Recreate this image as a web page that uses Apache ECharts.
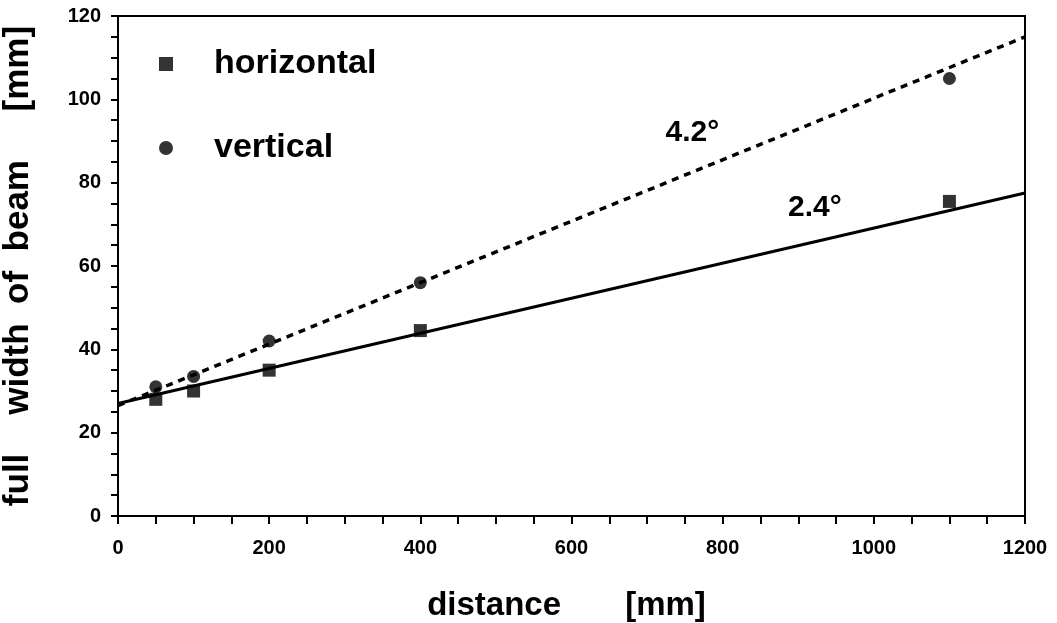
<!DOCTYPE html>
<html>
<head>
<meta charset="utf-8">
<script src="https://cdn.jsdelivr.net/npm/echarts@6/dist/echarts.min.js"></script>
<style>
  html, body { margin: 0; padding: 0; background: #fff; }
  #chart { width: 1057px; height: 623px; }
</style>
</head>
<body>
<div id="chart"></div>
<script>
// measured points
const distH = [50, 100, 200, 400, 1100];
const widthH = [28, 30, 35, 44.5, 75.5];
const distV = [50, 100, 200, 400, 1100];
const widthV = [31, 33.5, 42, 56, 105];
// fitted lines (end points)
const fitDist = [0, 1200];
const fitH = [27, 77.5];
const fitV = [26.5, 115];
const angleLabels = ['2.4°', '4.2°'];

const zip = (xs, ys) => xs.map((x, i) => [x, ys[i]]);
const tickFont = "'Liberation Sans', Arial, sans-serif";
const mainFont = "'Liberation Sans', Arial, sans-serif";

const chart = echarts.init(document.getElementById('chart'));
chart.setOption({
  animation: false,
  backgroundColor: '#fff',
  grid: {
    left: 118, right: 32, top: 16, bottom: 107,
    outerBoundsMode: 'none', containLabel: false,
    show: true, borderColor: '#000', borderWidth: 2
  },
  legend: {
    orient: 'vertical',
    left: 154, top: 42,
    itemGap: 50,
    itemWidth: 14, itemHeight: 14,
    data: ['horizontal', 'vertical'],
    textStyle: {
      fontFamily: mainFont, fontWeight: 'bold', fontSize: 34, color: '#000',
      padding: [0, 0, 0, 36]
    }
  },
  xAxis: {
    type: 'value', min: 0, max: 1200, interval: 50,
    name: 'distance       [mm]',
    nameLocation: 'middle', nameGap: 73,
    nameTextStyle: {
      fontFamily: mainFont, fontWeight: 'bold', fontSize: 33, color: '#000',
      padding: [0, 10, 0, 0]
    },
    axisLine: { lineStyle: { color: '#000', width: 2 } },
    axisTick: { length: 8, lineStyle: { color: '#000', width: 2 } },
    axisLabel: {
      margin: 22, color: '#000',
      fontFamily: tickFont, fontWeight: 'bold', fontSize: 20,
      formatter: v => (v % 200 === 0 ? String(v) : '')
    },
    splitLine: { show: false }
  },
  yAxis: {
    type: 'value', min: 0, max: 120, interval: 5,
    name: 'full    width  of  beam     [mm]',
    nameLocation: 'middle', nameGap: 82,
    nameTextStyle: {
      fontFamily: mainFont, fontWeight: 'bold', fontSize: 35, color: '#000'
    },
    axisLine: { lineStyle: { color: '#000', width: 2 } },
    axisTick: { length: 7, lineStyle: { color: '#000', width: 2 } },
    axisLabel: {
      margin: 17, color: '#000',
      fontFamily: tickFont, fontWeight: 'bold', fontSize: 20,
      formatter: v => (v % 20 === 0 ? String(v) : '')
    },
    splitLine: { show: false }
  },
  series: [
    {
      name: 'fitH', type: 'line', data: zip(fitDist, fitH),
      symbol: 'none', lineStyle: { color: '#000', width: 3 },
      z: 2,
      markPoint: {
        symbol: 'circle', symbolSize: 1,
        itemStyle: { color: 'transparent' },
        label: {
          show: true, formatter: '{b}', color: '#000',
          fontFamily: mainFont, fontWeight: 'bold', fontSize: 30
        },
        data: [{ name: angleLabels[0], coord: [922, 74] }]
      }
    },
    {
      name: 'fitV', type: 'line', data: zip(fitDist, fitV),
      symbol: 'none', lineStyle: { color: '#000', width: 3.5, type: [7, 6] },
      z: 2,
      markPoint: {
        symbol: 'circle', symbolSize: 1,
        itemStyle: { color: 'transparent' },
        label: {
          show: true, formatter: '{b}', color: '#000',
          fontFamily: mainFont, fontWeight: 'bold', fontSize: 30
        },
        data: [{ name: angleLabels[1], coord: [760, 92] }]
      }
    },
    {
      name: 'horizontal', type: 'scatter', data: zip(distH, widthH),
      symbol: 'rect', symbolSize: 13,
      itemStyle: { color: '#000' }, z: 3
    },
    {
      name: 'vertical', type: 'scatter', data: zip(distV, widthV),
      symbol: 'circle', symbolSize: 13,
      itemStyle: { color: '#000' }, z: 3
    }
  ]
});
</script>
</body>
</html>
